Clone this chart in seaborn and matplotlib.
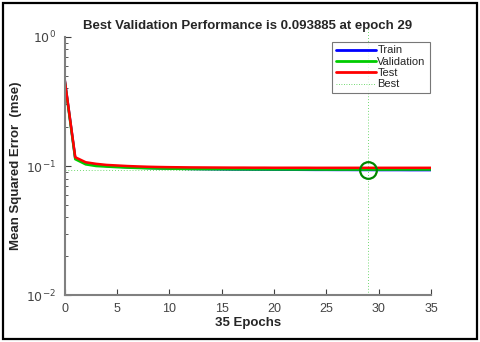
import numpy as np
import pandas as pd
import seaborn as sns
import matplotlib.pyplot as plt
import matplotlib.ticker as ticker
from matplotlib.patches import Rectangle
from matplotlib.lines import Line2D

# values
epochs = list(range(36))
train = [0.460, 0.115, 0.105, 0.102, 0.100, 0.0990, 0.0980, 0.0972, 0.0966, 0.0961,
         0.0957, 0.0953, 0.0950, 0.0948, 0.0946, 0.0944, 0.0942, 0.0941, 0.0940, 0.0939,
         0.0938, 0.0937, 0.0936, 0.0935, 0.0934, 0.0934, 0.0933, 0.0933, 0.0932, 0.0932,
         0.0931, 0.0931, 0.0931, 0.0930, 0.0930, 0.0930]
validation = [0.450, 0.113, 0.103, 0.100, 0.0990, 0.0980, 0.0972, 0.0966, 0.0961, 0.0957,
              0.0954, 0.0951, 0.0949, 0.0947, 0.0946, 0.0945, 0.0944, 0.0943, 0.0942, 0.0942,
              0.0941, 0.0941, 0.0940, 0.0940, 0.0940, 0.0939, 0.0939, 0.0939, 0.0939, 0.093885,
              0.0939, 0.0939, 0.0940, 0.0940, 0.0940, 0.0940]
test = [0.460, 0.117, 0.107, 0.104, 0.102, 0.101, 0.1000, 0.0993, 0.0987, 0.0983,
        0.0980, 0.0978, 0.0976, 0.0975, 0.0974, 0.0973, 0.0972, 0.0972, 0.0971, 0.0971,
        0.0970, 0.0970, 0.0970, 0.0970, 0.0969, 0.0969, 0.0969, 0.0969, 0.0969, 0.0969,
        0.0969, 0.0969, 0.0969, 0.0969, 0.0969, 0.0969]
best_epoch = 29
best_perf = 0.093885

BLUE = "#0000FF"
GREEN = "#00CC00"
RED = "#FF0000"
DARK_GREEN = "#008800"
DOT_GREEN = "#44CC44"
AXIS_GRAY = "#808080"

sns.set_style("ticks")
plt.rcParams['font.family'] = ['Liberation Sans', 'DejaVu Sans']

df = pd.DataFrame({'epoch': epochs, 'Train': train, 'Validation': validation, 'Test': test})

fig = plt.figure(figsize=(4.8, 3.42), dpi=100)
ax = fig.add_axes([0.135, 0.137, 0.763, 0.755])

sns.lineplot(data=df, x='epoch', y='Train', color=BLUE, lw=1.8, ax=ax)
sns.lineplot(data=df, x='epoch', y='Validation', color=GREEN, lw=1.8, ax=ax)
sns.lineplot(data=df, x='epoch', y='Test', color=RED, lw=1.8, ax=ax)

# best crosshair and circle
ax.axvline(best_epoch, color=DOT_GREEN, lw=0.6, ls=(0, (1, 2.5)), ymin=0, ymax=1.05,
           clip_on=False, zorder=1)
ax.axhline(best_perf, color=DOT_GREEN, lw=0.6, ls=(0, (1, 2.5)), zorder=1)
ax.plot([best_epoch], [best_perf], 'o', ms=12, mfc='none', mec=DARK_GREEN, mew=1.6)

ax.set_yscale('log')
ax.set_ylim(0.01, 1)
ax.set_xlim(0, 35)
ax.set_xticks([0, 5, 10, 15, 20, 25, 30, 35])
ax.set_yticks([0.01, 0.1, 1])
ax.set_yticklabels(['$10^{-2}$', '$10^{-1}$', '$10^{0}$'])
ax.yaxis.set_minor_locator(ticker.LogLocator(base=10, subs=np.arange(2, 10), numticks=20))
ax.yaxis.set_minor_formatter(ticker.NullFormatter())

for side in ['top', 'right']:
    ax.spines[side].set_visible(False)
for side in ['left', 'bottom']:
    ax.spines[side].set_color(AXIS_GRAY)
    ax.spines[side].set_linewidth(1.5)
ax.tick_params(which='both', direction='in', color='#404040', labelsize=9,
               labelcolor='#444444', pad=6)
ax.tick_params(which='major', length=4, width=0.8)
ax.tick_params(which='minor', axis='y', length=2.5, width=0.6, left=True)

ax.set_title('Best Validation Performance is 0.093885 at epoch 29',
             fontsize=9.5, fontweight='bold', pad=6)
ax.set_xlabel('35 Epochs', fontsize=9.5, fontweight='bold', labelpad=1)
ax.set_ylabel('Mean Squared Error  (mse)', fontsize=9.5, fontweight='bold', labelpad=3)

handles = [Line2D([], [], color=BLUE, lw=2),
           Line2D([], [], color=GREEN, lw=2),
           Line2D([], [], color=RED, lw=2),
           Line2D([], [], color=DOT_GREEN, lw=0.6, ls=(0, (1, 2)))]
leg = ax.legend(handles, ['Train', 'Validation', 'Test', 'Best'], loc='upper right',
                bbox_to_anchor=(1.005, 0.995), fontsize=8, frameon=True, fancybox=False,
                handlelength=3.6, handletextpad=0.1, labelspacing=0.12,
                borderpad=0.35, borderaxespad=0.3)
leg.get_frame().set_edgecolor('#555555')
leg.get_frame().set_linewidth(0.8)

# outer frame around the figure
fig.patches.append(Rectangle((0.006, 0.009), 0.988, 0.982, transform=fig.transFigure,
                             fill=False, edgecolor='black', lw=1.6))

fig.savefig('out.png', dpi=100)
